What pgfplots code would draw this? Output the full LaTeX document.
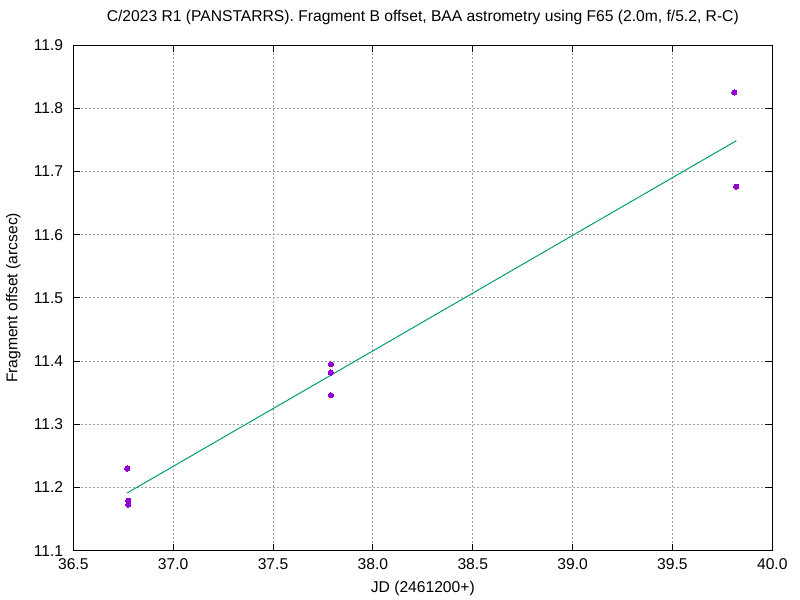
\documentclass[border=0pt]{standalone}
\usepackage{fontspec}
\setmainfont{Liberation Sans}
\usepackage{pgfplots}
\pgfplotsset{compat=1.18}
\definecolor{ptcol}{HTML}{9400D3}
\definecolor{fitcol}{HTML}{009E73}
\definecolor{gridcol}{HTML}{A0A0A0}
\newcommand{\lf}{\fontsize{15.7}{18}\selectfont}
\begin{document}
\begin{tikzpicture}
\path[use as bounding box] (-73.3bp,-49.3bp) rectangle (726.7bp,550.7bp);
\begin{axis}[
  at={(0,0)}, anchor=south west,
  scale only axis, width=699bp, height=505.6bp,
  xmin=36.5, xmax=40, ymin=11.1, ymax=11.9,
  xtick={36.5,37,37.5,38,38.5,39,39.5,40},
  ytick={11.1,11.2,11.3,11.4,11.5,11.6,11.7,11.8,11.9},
  /pgf/number format/assume math mode=true,
  /pgf/number format/.cd, fixed, fixed zerofill, precision=1, /pgfplots/.cd,
  tick label style={font=\lf, inner sep=0pt},
  xticklabel style={anchor=base, yshift=-18.5bp},
  yticklabel style={anchor=east, xshift=-10bp},
  tick align=inside, major tick length=7bp,
  tick style={black, line width=1bp},
  axis line style={black, line width=1bp},
  grid=major,
  grid style={gridcol, line width=0.8bp, dash pattern=on 2bp off 2bp},
  title={C/2023 R1 (PANSTARRS). Fragment B offset, BAA astrometry using F65 (2.0m, f/5.2, R-C)},
  title style={font=\lf, at={(axis description cs:0.5,1.0344)}, anchor=base, inner sep=0pt},
  xlabel={JD (2461200+)},
  xlabel style={font=\lf, at={(axis description cs:0.5,-0.0831)}, anchor=base, inner sep=0pt},
  ylabel={Fragment offset (arcsec)},
  ylabel style={font=\lf, at={(axis description cs:-0.0858,0.5)}, anchor=center, inner sep=0pt},
]
\addplot[fitcol, line width=1bp, no marks] coordinates {
  (36.77,11.1914) (39.82,11.7487)
};
\addplot[only marks, mark=*, mark size=2.6bp, mark options={fill=ptcol, draw=ptcol, line width=0pt}] coordinates {
  (36.77,11.230)
  (36.775,11.179)
  (36.775,11.173)
  (37.79,11.395)
  (37.79,11.382)
  (37.79,11.346)
  (39.81,11.825)
  (39.82,11.676)
};
\end{axis}
\end{tikzpicture}
\end{document}
